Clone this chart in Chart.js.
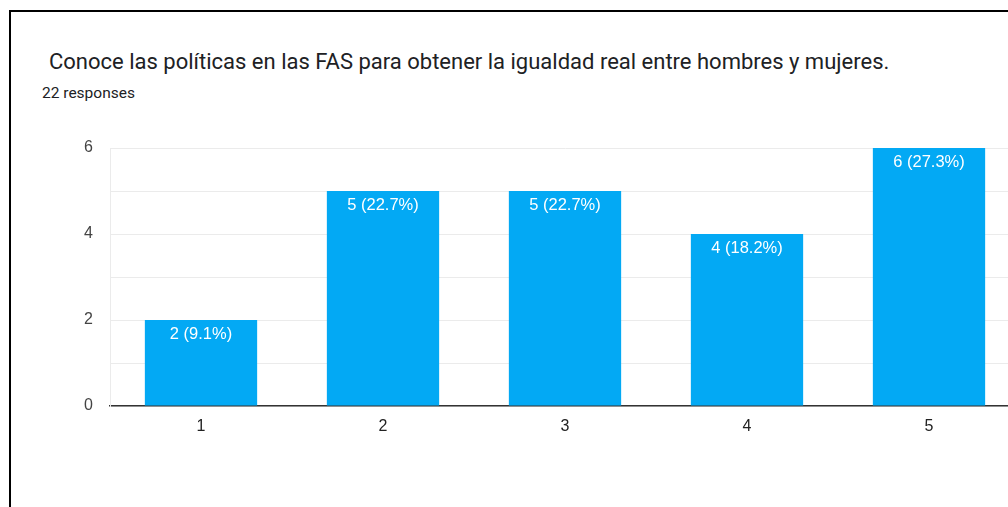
<!DOCTYPE html>
<html>
<head>
<meta charset="utf-8">
<script src="https://cdn.jsdelivr.net/npm/chart.js@4"></script>
<style>
  html, body { margin: 0; padding: 0; background: #fff; overflow: hidden; width: 1008px; height: 507px; }
  #frame { position: absolute; left: 9px; top: 10px; width: 1100px; height: 600px; border-left: 2px solid #000; border-top: 2px solid #000; }
  #title { position: absolute; left: 49px; top: 49px; font-family: Roboto, "Noto Sans", sans-serif; font-size: 22px; color: #202124; white-space: nowrap; }
  #sub { position: absolute; left: 42px; top: 84px; font-family: Roboto, "Noto Sans", sans-serif; font-size: 15.5px; color: #202124; white-space: nowrap; }
  #wrap { position: absolute; left: 0; top: 0; }
</style>
</head>
<body>
<div id="frame"></div>
<div id="title">Conoce las políticas en las FAS para obtener la igualdad real entre hombres y mujeres.</div>
<div id="sub">22 responses</div>
<div id="wrap"><canvas id="myChart" width="1040" height="507"></canvas></div>
<script>
// answers on the 1-5 scale
const categories = ["1", "2", "3", "4", "5"];
const responses = [2, 5, 5, 4, 6];
const yTicks = [0, 2, 4, 6];

const total = responses.reduce(function (a, b) { return a + b; }, 0);

// white "n (x%)" label inside the top of each bar
const barLabels = {
  id: "barLabels",
  afterDatasetsDraw(chart) {
    const ctx = chart.ctx;
    const meta = chart.getDatasetMeta(0);
    ctx.save();
    ctx.fillStyle = "#ffffff";
    ctx.font = "16.5px 'Liberation Sans', Arial, sans-serif";
    ctx.textAlign = "center";
    ctx.textBaseline = "middle";
    meta.data.forEach(function (bar, i) {
      const v = responses[i];
      const pct = (v / total * 100).toFixed(1);
      ctx.fillText(v + " (" + pct + "%)", bar.x, bar.y + 14);
    });
    ctx.restore();
  }
};

const ctx = document.getElementById("myChart").getContext("2d");
const myChart = new Chart(ctx, {
  type: "bar",
  data: {
    labels: categories,
    datasets: [{
      data: responses,
      backgroundColor: "#03a9f4",
      borderWidth: 0,
      categoryPercentage: 1,
      barPercentage: 0.617
    }]
  },
  options: {
    responsive: false,
    animation: false,
    layout: { padding: { top: 148, right: 20, bottom: 61, left: 0 } },
    plugins: { legend: { display: false }, tooltip: { enabled: false } },
    scales: {
      x: {
        afterFit(scale) { scale.height = 40; },
        grid: { display: false, drawTicks: false },
        border: { display: true, color: "#333333", width: 1.5 },
        ticks: { color: "#222222", padding: 11, font: { family: "'Liberation Sans', Arial, sans-serif", size: 16 } }
      },
      y: {
        min: 0,
        max: 6,
        afterFit(scale) { scale.width = 110; },
        afterBuildTicks(scale) { scale.ticks = yTicks.concat([1, 3, 5]).sort().map(function (v) { return { value: v }; }); },
        grid: { color: "#ebebeb", drawTicks: false },
        border: { display: true, color: "#ebebeb" },
        ticks: {
          color: "#444444",
          padding: 17,
          font: { family: "'Liberation Sans', Arial, sans-serif", size: 16 },
          callback: function (v) { return yTicks.indexOf(v) >= 0 ? v : ""; }
        }
      }
    }
  },
  plugins: [barLabels]
});
</script>
</body>
</html>
